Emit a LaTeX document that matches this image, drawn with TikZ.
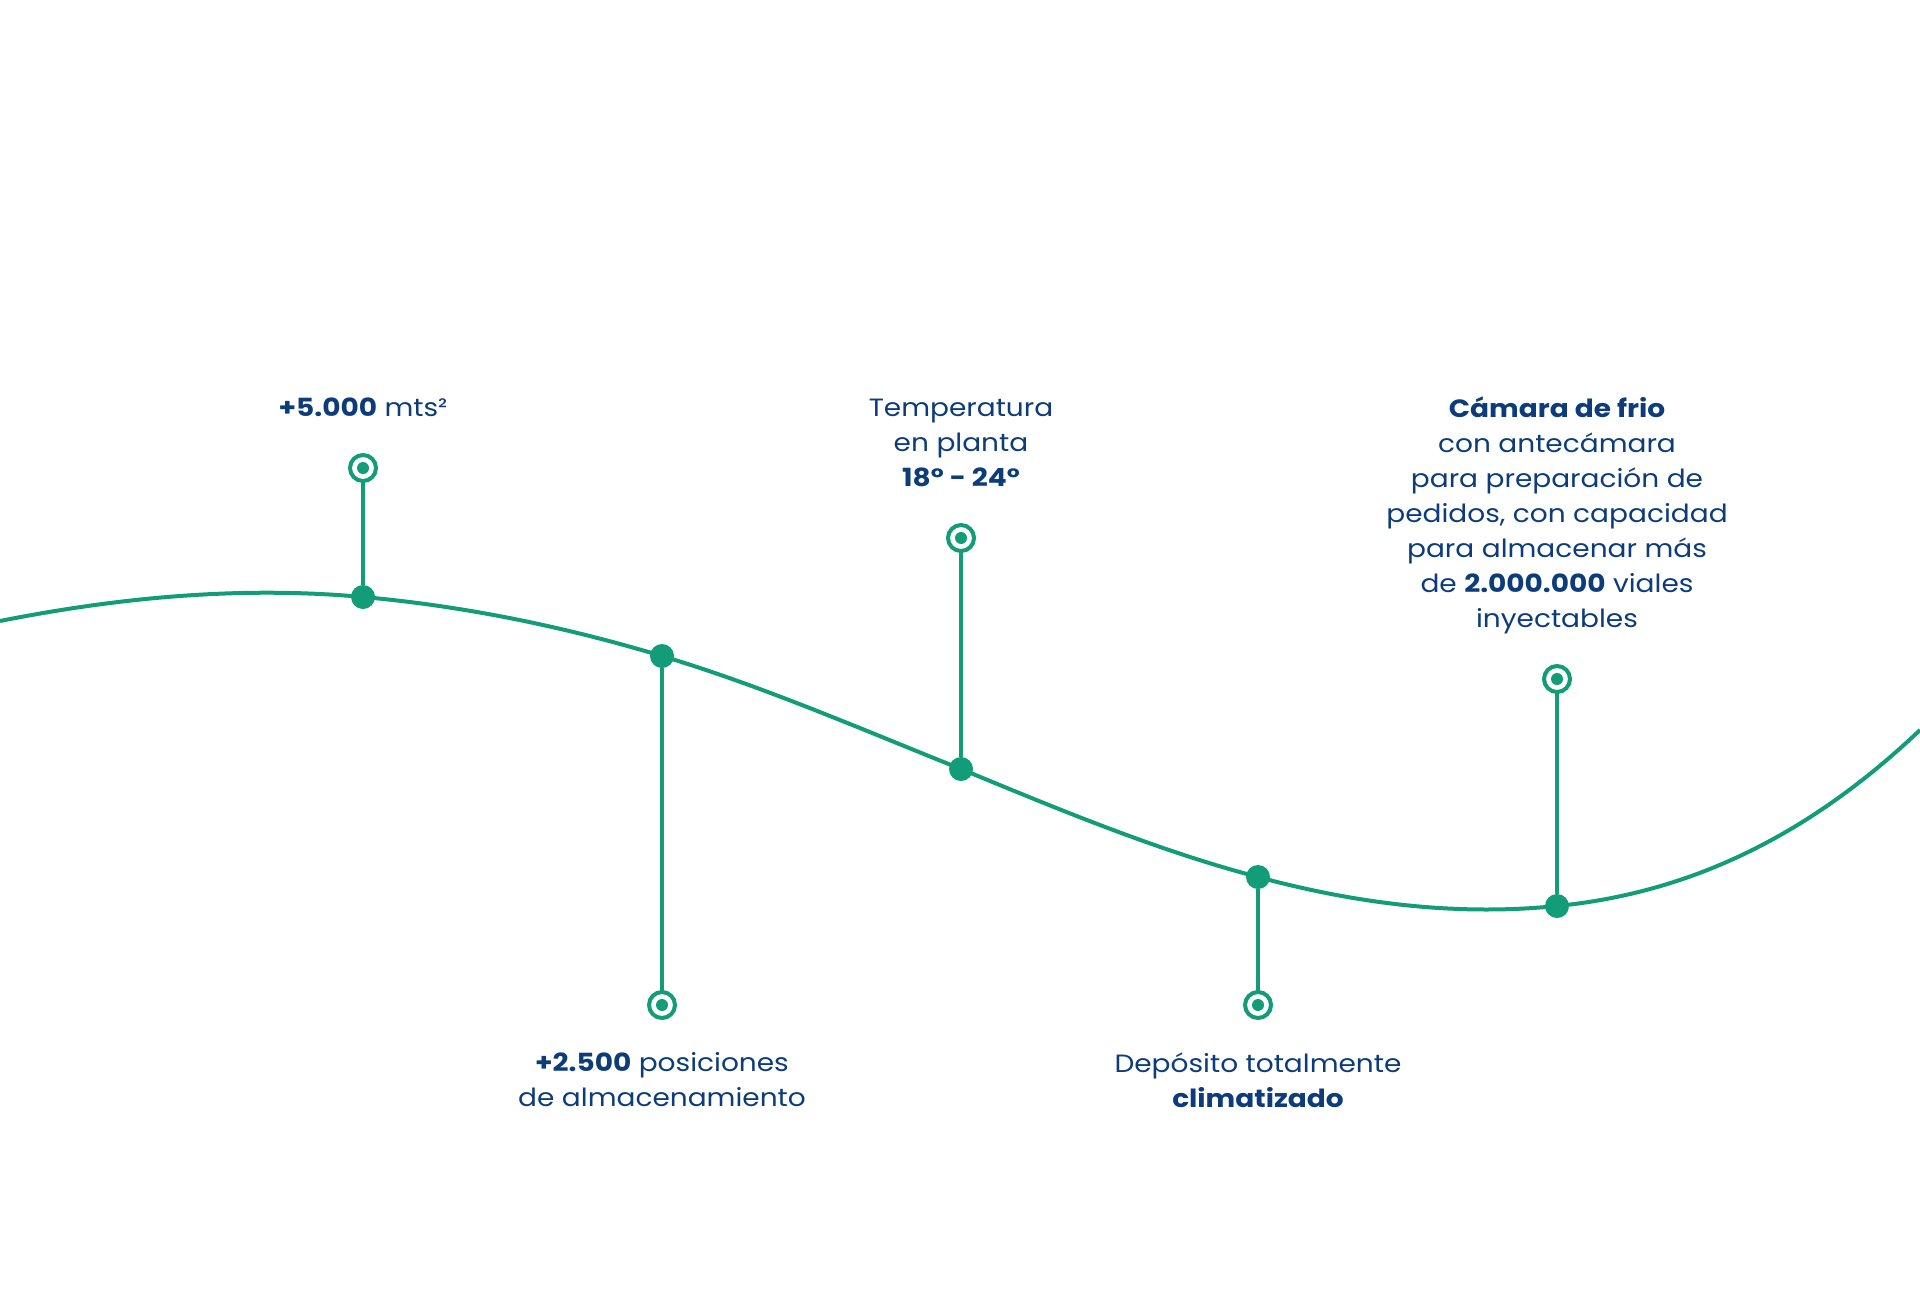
\documentclass[tikz,border=0pt]{standalone}
\usepackage{fontspec}
\setmainfont{Poppins}[FakeStretch=1.12]
\usetikzlibrary{positioning}
\definecolor{wavegreen}{RGB}{18,156,120}
\definecolor{textblue}{RGB}{12,60,122}

\begin{document}
\begin{tikzpicture}
    [ x=0.5pt, y=-0.5pt,
    inner sep=0pt,
    dot/.style={circle, fill=wavegreen, minimum size=12pt},
    ring/.style={circle, draw=wavegreen, line width=2pt, fill=white, minimum size=13pt,
      path picture={\fill[wavegreen] (path picture bounding box.center) circle (3pt);}},
    stem/.style={draw=wavegreen, line width=2pt},
    wave/.style={draw=wavegreen, line width=2pt},
    info/.style={align=center, text=textblue, font=\fontsize{12.5}{17.5}\selectfont},
    node distance=18pt
    ]

    \useasboundingbox (0,0) rectangle (1920,1289);

    \coordinate (p1) at (363,597);
    \coordinate (p2) at (662,656);
    \coordinate (p3) at (961,769);
    \coordinate (p4) at (1258,877);
    \coordinate (p5) at (1557,906);

    \draw[wave] (0,621) .. controls (121,597) and (242,586) .. (p1)
      .. controls (463,606) and (562,626) .. (p2)
      .. controls (762,686) and (861,729) .. (p3)
      .. controls (1060,810) and (1159,851) .. (p4)
      .. controls (1358,904) and (1457,916) .. (p5)
      .. controls (1678,894) and (1799,845) .. (1920,730);

    \node[dot] (d1) at (p1) {};
    \node[dot] (d2) at (p2) {};
    \node[dot] (d3) at (p3) {};
    \node[dot] (d4) at (p4) {};
    \node[dot] (d5) at (p5) {};

    \draw[stem] (363,468) -- (d1);
    \draw[stem] (662,1005) -- (d2);
    \draw[stem] (961,538) -- (d3);
    \draw[stem] (1258,1005) -- (d4);
    \draw[stem] (1557,679) -- (d5);

    \node[ring] (r1) at (363,468) {};
    \node[ring] (r2) at (662,1005) {};
    \node[ring] (r3) at (961,538) {};
    \node[ring] (r4) at (1258,1005) {};
    \node[ring] (r5) at (1557,679) {};

    \node[info, text depth=0pt, above=18pt of r1] (t1) {\textbf{+5.000} mts²};
    \node[info, text depth=0pt, above=18pt of r3] (t3) {Temperatura\\en planta\\\textbf{18° - 24°}};
    \node[info, text depth=0pt, above=18pt of r5] (t5) {\textbf{Cámara de frio}\\con antecámara\\para preparación de\\pedidos, con capacidad\\para almacenar más\\de \textbf{2.000.000} viales\\inyectables};
    \node[info, below=16pt of r2] (t2) {\textbf{+2.500} posiciones\\de almacenamiento};
    \node[info, below=16pt of r4] (t4) {Depósito totalmente\\\textbf{climatizado}};
  \end{tikzpicture}
\end{document}
